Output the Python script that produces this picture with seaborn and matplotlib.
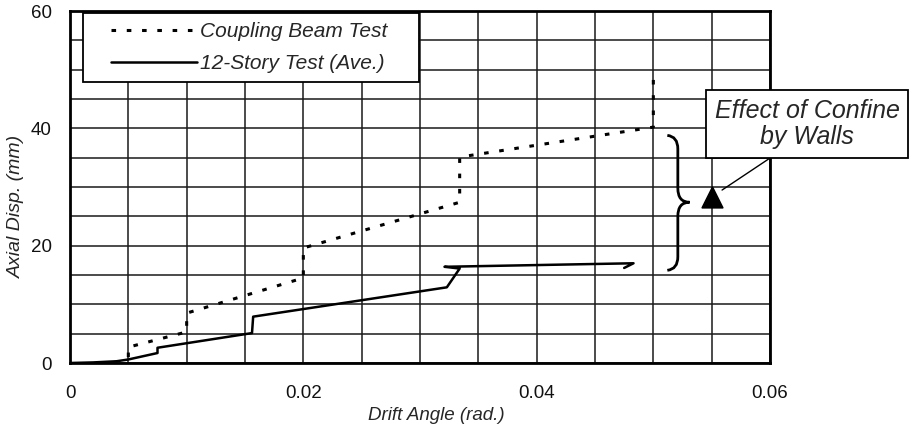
import matplotlib
matplotlib.use("Agg")
import matplotlib.pyplot as plt
from matplotlib.ticker import MultipleLocator, FixedLocator
from matplotlib.path import Path
from matplotlib.patches import PathPatch
from matplotlib.legend_handler import HandlerLine2D
import seaborn as sns
import pandas as pd

# ---- data ----
coupling_x = [0.005, 0.005, 0.010, 0.010, 0.020, 0.020, 0.0334, 0.0334, 0.050, 0.050]
coupling_y = [1.0, 2.7, 5.3, 8.5, 14.5, 19.6, 27.4, 35.1, 40.2, 48.7]

story_x = [0.0, 0.002, 0.004, 0.005, 0.0075, 0.0075, 0.0156, 0.0157, 0.0323,
           0.0334, 0.0321, 0.0483, 0.0475]
story_y = [0.0, 0.1, 0.3, 0.6, 1.7, 2.6, 5.1, 7.9, 12.9,
           16.1, 16.4, 17.0, 16.2]

marker_x = [0.055]
marker_y = [28.3]

series_labels = ["Coupling Beam Test", "12-Story Test (Ave.)"]
x_ticks = [0.0, 0.02, 0.04, 0.06]
x_tick_labels = ["0", "0.02", "0.04", "0.06"]
y_ticks = [0, 20, 40, 60]
y_tick_labels = ["0", "20", "40", "60"]
annotation_text = "Effect of Confine\nby Walls"
x_label = "Drift Angle (rad.)"
y_label = "Axial Disp. (mm)"

# brace geometry (annotation)
brace_x_end, brace_x_body, brace_x_tip = 0.0512, 0.0521, 0.0531
brace_y_top, brace_y_mid, brace_y_bot = 38.8, 27.4, 15.8

sns.set_theme(style="white")
plt.rcParams['font.family'] = ['Liberation Sans', 'DejaVu Sans']

fig = plt.figure(figsize=(9.13, 4.32), dpi=100)
ax = fig.add_axes([70 / 913, 1 - 363 / 432, 700 / 913, 352 / 432])

df_c = pd.DataFrame({"x": coupling_x, "y": coupling_y})
df_s = pd.DataFrame({"x": story_x, "y": story_y})

sns.lineplot(data=df_c, x="x", y="y", sort=False, estimator=None, ax=ax,
             color="black", linewidth=2.2, linestyle=(0, (1.5, 3.5)),
             label=series_labels[0], zorder=3)
sns.lineplot(data=df_s, x="x", y="y", sort=False, estimator=None, ax=ax,
             color="black", linewidth=1.8, linestyle="-",
             label=series_labels[1], zorder=3)

sns.scatterplot(x=marker_x, y=marker_y, ax=ax, marker="^", s=220,
                color="black", edgecolor="black", zorder=4, legend=False)

# brace
d = brace_x_body
verts = [
    (brace_x_end, brace_y_top),
    (d, brace_y_top - 0.2), (d, brace_y_top - 2.3),
    (d, brace_y_mid + 2.4),
    (d, brace_y_mid), (brace_x_tip, brace_y_mid),
    (d, brace_y_mid), (d, brace_y_mid - 2.4),
    (d, brace_y_bot + 2.3),
    (d, brace_y_bot + 0.2), (brace_x_end, brace_y_bot),
]
codes = [Path.MOVETO, Path.CURVE3, Path.CURVE3, Path.LINETO,
         Path.CURVE3, Path.CURVE3, Path.CURVE3, Path.CURVE3,
         Path.LINETO, Path.CURVE3, Path.CURVE3]
ax.add_patch(PathPatch(Path(verts, codes), facecolor="none", edgecolor="black",
                       linewidth=2.0, zorder=4))

ax.set_xlim(0, 0.06)
ax.set_ylim(0, 60)
ax.xaxis.set_major_locator(FixedLocator(x_ticks))
ax.set_xticklabels(x_tick_labels)
ax.yaxis.set_major_locator(FixedLocator(y_ticks))
ax.set_yticklabels(y_tick_labels)
ax.xaxis.set_minor_locator(MultipleLocator(0.005))
ax.yaxis.set_minor_locator(MultipleLocator(5))
ax.grid(True, which="both", color="#1a1a1a", linewidth=1.1)
ax.set_axisbelow(True)
ax.tick_params(axis="both", which="both", length=0, labelsize=13.5, colors="#111")
ax.tick_params(axis="x", pad=16)
ax.tick_params(axis="y", pad=13)

for s in ax.spines.values():
    s.set_visible(True)
    s.set_color("black")
    s.set_linewidth(2.0)

ax.set_xlabel(x_label, fontsize=13.5, fontstyle="italic")
ax.xaxis.set_label_coords(0.524, -0.125)
ax.set_ylabel(y_label, fontsize=14, fontstyle="italic")
ax.yaxis.set_label_coords(-0.064, 0.446)

handler = HandlerLine2D(xpad=0.9)
handles, labels = ax.get_legend_handles_labels()
leg = ax.legend(handles, [l + "    " for l in labels],
                loc="upper left", bbox_to_anchor=(83 / 913, 1 - 13 / 432),
                bbox_transform=fig.transFigure, borderaxespad=0,
                fontsize=15, frameon=True, fancybox=False, framealpha=1,
                handlelength=5.0, handletextpad=0.15, labelspacing=0.6,
                borderpad=0.45,
                handler_map={h: handler for h in handles})
leg.get_frame().set_edgecolor("black")
leg.get_frame().set_linewidth(1.3)
for t in leg.get_texts():
    t.set_fontstyle("italic")
leg.set_zorder(10)

ax.annotate(annotation_text, xy=(marker_x[0], marker_y[0]),
            xytext=(807 / 913, 1 - 124 / 432), textcoords="figure fraction",
            ha="center", va="center", fontsize=18, fontstyle="italic",
            linespacing=1.15, annotation_clip=False,
            bbox=dict(boxstyle="square,pad=0.33", facecolor="white",
                      edgecolor="black", linewidth=1.3),
            arrowprops=dict(arrowstyle="-", color="black", linewidth=1.0,
                            relpos=(0.37, 0.0), shrinkA=0, shrinkB=9),
            zorder=10)

fig.savefig("out.png", dpi=100, facecolor="white")
